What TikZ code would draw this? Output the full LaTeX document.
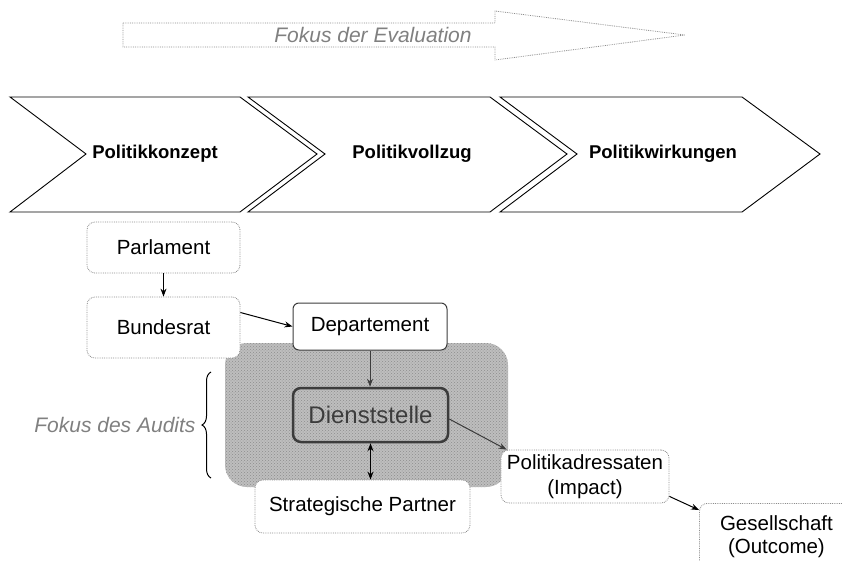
\documentclass[tikz,border=0pt]{standalone}
\usepackage{fontspec}
\setmainfont{Liberation Sans}
\usetikzlibrary{arrows.meta,patterns,decorations.pathreplacing}
\definecolor{focusgray}{RGB}{128,128,128}
\definecolor{dottedgray}{RGB}{140,140,140}
\definecolor{darkline}{RGB}{60,60,60}
\definecolor{auditgray}{RGB}{190,190,190}

\begin{document}
\begin{tikzpicture}[x=1pt,y=-1pt]

%
% Styles
%
\tikzstyle{chevron} = [draw=black,line width=0.9pt]
\tikzstyle{phase}   = [font=\fontsize{18.5}{22}\selectfont\bfseries]
\tikzstyle{box}     = [draw=dottedgray,densely dotted,line width=0.8pt,rounded corners=8pt,fill=white,align=center,inner sep=0pt,font=\fontsize{20.5}{24.5}\selectfont]
\tikzstyle{focus}   = [text=focusgray,font=\fontsize{21}{25}\selectfont\itshape]
\tikzstyle{edge}    = [->,>={Stealth[length=8pt,width=6pt]},line width=1pt]

\clip (0,0) rectangle (842,561);

% Fokus der Evaluation
\draw[draw=dottedgray,densely dotted,line width=0.8pt] (123,23) -- (495,23) -- (495,11) -- (685,35) -- (495,60) -- (495,47) -- (123,47) -- cycle;
\node[focus] (evaluation) at (373,35) {Fokus der Evaluation};

% Phasen
\draw[chevron] (10,97) -- (240,97) -- (317,154) -- (240,212) -- (10,212) -- (86,154) -- cycle;
\draw[chevron] (248,97) -- (490,97) -- (567,154) -- (490,212) -- (248,212) -- (325,154) -- cycle;
\draw[chevron] (500,97) -- (742,97) -- (820,154) -- (742,212) -- (500,212) -- (577,154) -- cycle;
\node[phase] (konzept)   at (155,154) {Politikkonzept};
\node[phase] (vollzug)   at (412,154) {Politikvollzug};
\node[phase] (wirkungen) at (663,154) {Politikwirkungen};

% Fokus des Audits
\fill[auditgray,rounded corners=22pt] (225,343) rectangle (508,487);
\fill[pattern=crosshatch dots,pattern color=black!45,rounded corners=22pt] (225,343) rectangle (508,487);
\draw[decorate,decoration={brace,amplitude=9pt},line width=1pt] (211,478) -- (211,372);
\node[focus,anchor=east] (audits) at (199,425) {Fokus des Audits};

% Akteure
\node[box,minimum width=153pt,minimum height=51pt] (parlament) at (163.5,247.5) {Parlament};
\node[box,minimum width=153pt,minimum height=61pt] (bundesrat) at (163.5,327.5) {Bundesrat};
\node[box,solid,draw=darkline,line width=1pt,rounded corners=6pt,minimum width=154pt,minimum height=47pt] (departement) at (370,326.5) {Departement};
\node[draw=darkline,line width=2.5pt,rounded corners=8pt,minimum width=155pt,minimum height=54pt,text=darkline,font=\fontsize{24}{28}\selectfont] (dienststelle) at (370.5,415) {Dienststelle};
\node[box,minimum width=215pt,minimum height=53pt] (partner) at (362.5,506.5) {Strategische Partner};
\node[box,minimum width=168pt,minimum height=53pt] (adressaten) at (585,476.5) {Politikadressaten\\(Impact)};
\node[box,anchor=north west,text width=154pt,inner ysep=12pt,font=\fontsize{20.5}{23.5}\selectfont] (gesellschaft) at (699,503) {Gesellschaft\\(Outcome)\\\mbox{}};

\draw[edge] (parlament) -- (bundesrat);
\draw[edge] ([yshift=15pt]bundesrat.east) -- (departement.west);
\draw[edge,draw=darkline,line width=0.8pt] (departement.south) -- (departement.south |- dienststelle.north);
\draw[edge,<->,line width=1.5pt] (dienststelle.south) -- (dienststelle.south |- partner.north);
\draw[edge,draw=darkline] ([yshift=-4pt]dienststelle.east) -- ([xshift=6pt]adressaten.north west);
\draw[edge] ([yshift=7pt]adressaten.south east) -- ([yshift=-7pt]gesellschaft.north west);

\end{tikzpicture}
\end{document}
